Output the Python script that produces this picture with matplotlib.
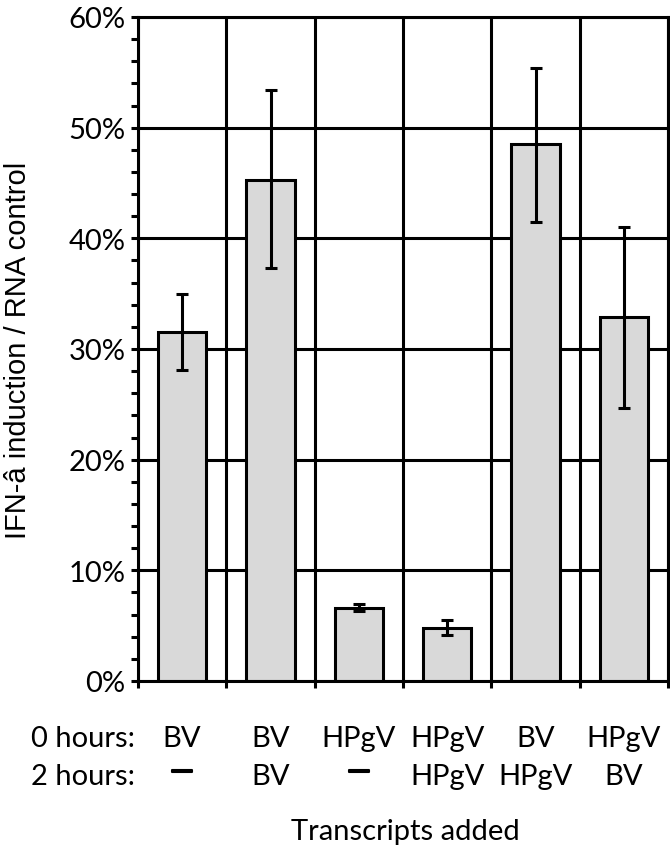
import matplotlib
matplotlib.use("Agg")
import matplotlib.pyplot as plt
import matplotlib.transforms as mtransforms
import matplotlib.patheffects as pe
from matplotlib.ticker import MultipleLocator, FuncFormatter

# values (percent)
hours0 = ["BV", "BV", "HPgV", "HPgV", "BV", "HPgV"]
hours2 = ["\u2014", "BV", "\u2014", "HPgV", "HPgV", "BV"]
values = [31.5, 45.3, 6.6, 4.8, 48.5, 32.9]
err_low = [28.1, 37.3, 6.3, 4.15, 41.5, 24.7]
err_high = [35.0, 53.4, 6.95, 5.5, 55.4, 41.0]

FONT = "Lato"
LW = 2.2
FS = 21

def main():
    plt.rcParams["font.family"] = [FONT, "DejaVu Sans"]
    fig = plt.figure(figsize=(6.7, 8.53), dpi=100)
    ax = fig.add_axes([138 / 670, 1 - 682 / 853, 530 / 670, 664 / 853])

    n = len(values)
    x = list(range(n))
    yerr = [[v - lo for v, lo in zip(values, err_low)],
            [hi - v for v, hi in zip(values, err_high)]]

    ax.bar(x, values, width=0.55, color="#d9d9d9", edgecolor="black",
           linewidth=LW, zorder=3)
    ax.errorbar(x, values, yerr=yerr, fmt="none", ecolor="black",
                elinewidth=LW, capsize=4.5, capthick=LW, zorder=4)

    ax.set_xlim(-0.5, n - 0.5)
    ax.set_ylim(0, 60)

    # category boundaries: ticks + vertical grid
    ax.set_xticks([i - 0.5 for i in range(n + 1)])
    ax.set_xticklabels([])
    ax.yaxis.set_major_locator(MultipleLocator(10))
    ax.yaxis.set_minor_locator(MultipleLocator(2))
    ax.yaxis.set_major_formatter(FuncFormatter(lambda v, p: "%d%%" % v))
    ax.grid(True, color="black", linewidth=LW, zorder=1)
    ax.set_axisbelow(True)

    ax.tick_params(axis="both", which="both", direction="out", length=5,
                   width=LW, color="black")
    ax.tick_params(axis="y", labelsize=FS, pad=4)
    for s in ax.spines.values():
        s.set_linewidth(LW)
        s.set_zorder(5)

    ax.set_ylabel("IFN-â induction / RNA control", fontsize=21,
                  family=["Liberation Sans", "DejaVu Sans"])
    ax.yaxis.set_label_coords(-0.2, 0.5)

    trans = mtransforms.blended_transform_factory(ax.transData, fig.transFigure)
    y0 = 1 - 747 / 853
    y2 = 1 - 785 / 853
    for i in range(n):
        ax.text(i, y0, hours0[i], transform=trans, ha="center", va="baseline",
                fontsize=FS)
        if hours2[i] == "\u2014":
            ax.text(i, 1 - 773 / 853, hours2[i], transform=trans, ha="center",
                    va="center", fontsize=14, fontweight="bold",
                    family=["Liberation Sans", "DejaVu Sans"],
                    path_effects=[pe.withStroke(linewidth=1.5, foreground="black")])
        else:
            ax.text(i, y2, hours2[i], transform=trans, ha="center",
                    va="baseline", fontsize=FS)
    fig.text(135 / 670, y0, "0 hours:", ha="right", va="baseline", fontsize=FS)
    fig.text(135 / 670, y2, "2 hours:", ha="right", va="baseline", fontsize=FS)
    fig.text(405 / 670, 1 - 840 / 853, "Transcripts added", ha="center",
             va="baseline", fontsize=FS)

    fig.savefig("out.png", dpi=100)

if __name__ == "__main__":
    main()
